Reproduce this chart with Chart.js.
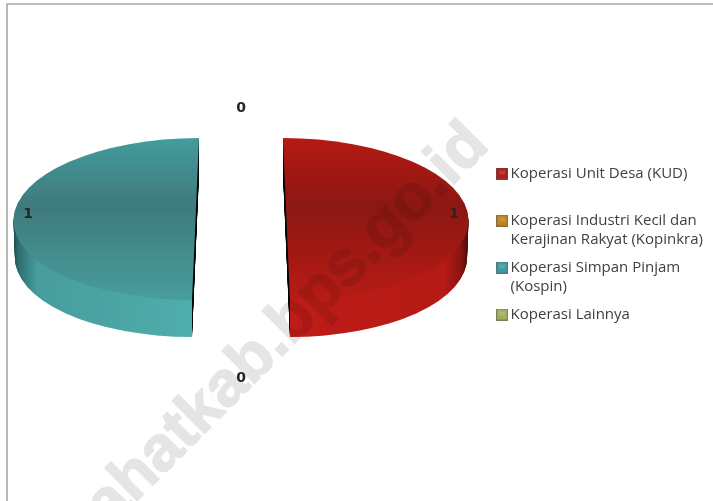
<!DOCTYPE html>
<html><head><meta charset="utf-8">
<style>html,body{margin:0;padding:0;background:#fff}#w{position:absolute;left:0;top:0;width:713px;height:501px}</style>
<script src="https://cdn.jsdelivr.net/npm/chart.js@4"></script></head>
<body><div id="w"><canvas id="c" width="713" height="501"></canvas></div>
<script>
const categories = [
  ['Koperasi Unit Desa (KUD)', ''],
  ['Koperasi Industri Kecil dan', 'Kerajinan Rakyat (Kopinkra)'],
  ['Koperasi Simpan Pinjam', '(Kospin)'],
  ['Koperasi Lainnya', '']
];
const values = [1, 0, 1, 0];
const legendColors = ['#AE1D17', '#BE8424', '#3E9BA0', '#9DAF5C'];
const watermark = 'ahatkab.bps.go.id';

const PIE = {cx: 241, cy: 219, R: 182, squash: 81 / 182, explode: 45.5, skew: 3.5 / 182, depth: 37, taper: 0.008};
const FONT = '"Open Sans", sans-serif';
const faceStops = [
  [[0, '#439C9E'], [0.42, '#3F7A7C'], [1, '#489D9D']],
  [[0, '#B61A14'], [0.42, '#8C1712'], [1, '#B81B15']]
];
const sideStops = [
  [[0, '#1E4647'], [0.015, '#2E6D6E'], [0.07, '#479C9C'], [0.5, '#4FAEAC']],
  [[0.5, '#BE1C17'], [0.93, '#B51A15'], [0.975, '#8A1410'], [1, '#4A0B09']]
];
function legendSwatch(color) {
  const cv = document.createElement('canvas');
  cv.width = 12; cv.height = 12;
  const x = cv.getContext('2d');
  x.fillStyle = color; x.fillRect(0, 0, 12, 12);
  x.fillStyle = 'rgba(255,255,255,0.14)'; x.fillRect(3, 3, 6, 4);
  x.strokeStyle = 'rgba(90,90,90,0.55)'; x.strokeRect(0.5, 0.5, 11, 11);
  return cv;
}
const pie3d = {
  id: 'pie3d',
  beforeDatasetDraw() { return false; },
  afterDatasetsDraw(chart) {
    const ctx = chart.ctx;
    const arcs = chart.getDatasetMeta(0).data;
    const paint = (el, fillFor, dy, cut) => {
      const mid = (el.startAngle + el.endAngle) / 2;
      const dir = Math.cos(mid) >= 0 ? 1 : -1;
      const s = dy > 0 ? 1 - PIE.taper * dy / PIE.depth : 1;
      const a = Object.create(el);
      a.options = Object.assign({}, el.options, {backgroundColor: fillFor(s), borderWidth: 0, offset: 0});
      ctx.save();
      if (dy > 0) {
        ctx.translate(cut, 0); ctx.scale(s, 1); ctx.translate(-cut, 0);
      }
      ctx.transform(1, 0, PIE.skew * dir, PIE.squash, PIE.cx + dir * PIE.explode, PIE.cy + dy);
      ctx.translate(-el.x, -el.y);
      a.draw(ctx);
      ctx.restore();
    };
    arcs.forEach((el, i) => {
      if (values[i] <= 0) return;
      const mid = (el.startAngle + el.endAngle) / 2;
      const dir = Math.cos(mid) >= 0 ? 1 : -1;
      const idx = dir > 0 ? 1 : 0;
      const centre = PIE.cx + dir * PIE.explode;
      const cut = centre + dir * PIE.skew * PIE.R;
      const w = chart.width, h = chart.height;
      const sideFill = s => {
        const toLocal = D => el.x + (cut + (D - cut) / s) - centre;
        const g = ctx.createLinearGradient(toLocal(centre - PIE.R), 0, toLocal(centre + PIE.R), 0);
        sideStops[idx].forEach(t => g.addColorStop(t[0], t[1]));
        return g;
      };
      const faceFill = () => {
        const g = ctx.createLinearGradient(0, el.y - PIE.R, 0, el.y + PIE.R);
        faceStops[idx].forEach(t => g.addColorStop(t[0], t[1]));
        return g;
      };
      ctx.save(); ctx.beginPath();
      dir > 0 ? ctx.rect(0, 0, cut, h) : ctx.rect(cut, 0, w - cut, h); ctx.clip();
      for (let d = PIE.depth; d >= 1; d--) paint(el, () => '#0a0a0a', d, cut);
      ctx.restore();
      ctx.save(); ctx.beginPath();
      dir > 0 ? ctx.rect(cut, 0, w - cut, h) : ctx.rect(0, 0, cut, h); ctx.clip();
      for (let d = PIE.depth; d >= 1; d--) paint(el, sideFill, d, cut);
      ctx.restore();
      paint(el, faceFill, 0, cut);
    });
    ctx.save();
    ctx.font = 'bold 14px "DejaVu Sans", sans-serif';
    ctx.textAlign = 'center'; ctx.textBaseline = 'middle';
    ctx.fillStyle = '#262626';
    arcs.forEach((el, i) => {
      const mid = (el.startAngle + el.endAngle) / 2;
      if (values[i] > 0) {
        const dir = Math.cos(mid) >= 0 ? 1 : -1;
        ctx.fillText(String(values[i]), PIE.cx + dir * (PIE.explode + 167.5), PIE.cy - 5);
      } else {
        ctx.fillText(String(values[i]), PIE.cx, PIE.cy + 24.5 + Math.sin(mid) * 135);
      }
    });
    ctx.restore();
  },
  afterDraw(chart) {
    const ctx = chart.ctx;
    ctx.save();
    ctx.strokeStyle = '#ABABAB'; ctx.lineWidth = 1.7;
    ctx.beginPath(); ctx.moveTo(7, chart.height); ctx.lineTo(7, 4); ctx.lineTo(chart.width, 4); ctx.stroke();
    const layer = document.createElement('canvas');
    layer.width = chart.width; layer.height = chart.height;
    const t = layer.getContext('2d');
    t.translate(491, 147); t.rotate(-45 * Math.PI / 180);
    t.font = 'bold 63.5px "Liberation Sans", sans-serif';
    t.textAlign = 'right'; t.textBaseline = 'alphabetic';
    t.fillStyle = '#E5E5E5'; t.strokeStyle = '#E5E5E5'; t.lineWidth = 1.5; t.lineJoin = 'round';
    t.fillText(watermark, 0, 0);
    t.strokeText(watermark, 0, 0);
    ctx.globalCompositeOperation = 'multiply';
    ctx.drawImage(layer, 0, 0);
    ctx.restore();
  }
};
new Chart(document.getElementById('c'), {
  type: 'pie',
  data: {labels: categories, datasets: [{data: values, backgroundColor: legendColors, borderWidth: 0, radius: PIE.R}]},
  plugins: [pie3d],
  options: {
    responsive: false, animation: false,
    layout: {padding: {top: 10, bottom: 0, left: 0, right: 0}},
    plugins: {
      tooltip: {enabled: false},
      title: {display: false},
      legend: {
        position: 'right', align: 'center',
        labels: {
          usePointStyle: true, pointStyleWidth: 2, boxHeight: 12, padding: 9,
          color: '#404040',
          font: {family: FONT, size: 15, lineHeight: 19 / 15},
          generateLabels(chart) {
            return Chart.controllers.pie.overrides.plugins.legend.labels.generateLabels(chart)
              .map((it, i) => Object.assign(it, {pointStyle: legendSwatch(legendColors[i]), fontColor: '#404040'}));
          }
        }
      }
    }
  }
});
</script></body></html>
